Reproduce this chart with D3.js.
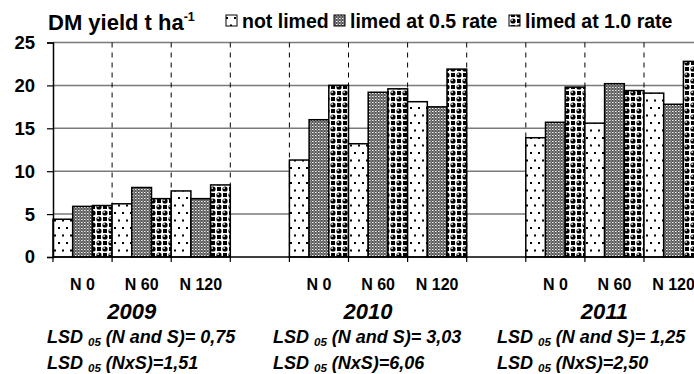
<!DOCTYPE html>
<html>
<head>
<meta charset="utf-8">
<script src="https://cdn.jsdelivr.net/npm/d3@7"></script>
<style>
  html, body { margin: 0; padding: 0; background: #fff; }
  svg { display: block; }
  text { font-family: "Liberation Sans", Arial, sans-serif; font-weight: bold; fill: #000; }
</style>
</head>
<body>
<svg id="chart" width="694" height="374"></svg>
<script>
// Dry-matter yield by nitrogen rate and liming, three seasons
const years = ["2009", "2010", "2011"];
const nRates = ["N 0", "N 60", "N 120"];
const seriesNames = ["not limed", "limed at 0.5 rate", "limed at 1.0 rate"];

// values listed year by year, N 0 / N 60 / N 120 within each year (t ha-1)
const notLimed = [4.4, 6.2, 7.7, 11.3, 13.2, 18.1, 13.9, 15.6, 19.1];
const limedHalf = [5.9, 8.1, 6.8, 16.0, 19.2, 17.5, 15.7, 20.2, 17.8];
const limedFull = [6.0, 6.8, 8.4, 20.0, 19.6, 21.9, 19.8, 19.4, 22.8];

const yTicks = [0, 5, 10, 15, 20, 25];
const lsdMain = ["0,75", "3,03", "1,25"];
const lsdInter = ["1,51", "6,06", "2,50"];

const svg = d3.select("#chart");
const defs = svg.append("defs");

// fill patterns
const pNot = defs.append("pattern").attr("id", "pNot").attr("patternUnits", "userSpaceOnUse")
  .attr("width", 8).attr("height", 15);
pNot.append("rect").attr("width", 8).attr("height", 15).attr("fill", "#fff");
pNot.append("rect").attr("x", 2).attr("y", 2).attr("width", 2).attr("height", 2).attr("fill", "#000");
pNot.append("rect").attr("x", 6).attr("y", 9.5).attr("width", 2).attr("height", 2).attr("fill", "#000");

const pHalf = defs.append("pattern").attr("id", "pHalf").attr("patternUnits", "userSpaceOnUse")
  .attr("width", 3).attr("height", 3);
pHalf.append("rect").attr("width", 3).attr("height", 3).attr("fill", "#555");
pHalf.append("rect").attr("width", 1).attr("height", 1).attr("fill", "#f0f0f0");
pHalf.append("rect").attr("x", 1.5).attr("y", 1.5).attr("width", 1).attr("height", 1).attr("fill", "#e8e8e8");
pHalf.append("rect").attr("x", 1).attr("y", 0).attr("width", 1).attr("height", 1).attr("fill", "#aaa");

const pFull = defs.append("pattern").attr("id", "pFull").attr("patternUnits", "userSpaceOnUse")
  .attr("width", 12).attr("height", 12);
pFull.append("rect").attr("width", 12).attr("height", 12).attr("fill", "#fff");
[[9, 3], [3, 9]].forEach(([cx, cy]) => {
  pFull.append("rect").attr("x", cx - 2).attr("y", cy - 2).attr("width", 4).attr("height", 4).attr("fill", "#000");
});
[[3, 3], [9, 9]].forEach(([cx, cy]) => {
  pFull.append("circle").attr("cx", cx).attr("cy", cy).attr("r", 2.6).attr("fill", "#000");
  pFull.append("circle").attr("cx", cx - 0.9).attr("cy", cy - 0.9).attr("r", 0.9).attr("fill", "#fff");
});

const fills = ["url(#pNot)", "url(#pHalf)", "url(#pFull)"];
const seriesValues = [notLimed, limedHalf, limedFull];

// category slots: each year's three N rates, with an empty slot between years
const slots = [];
years.forEach((yr, i) => {
  nRates.forEach(n => slots.push(yr + "|" + n));
  if (i < years.length - 1) slots.push("gap" + i);
});

const left = 53, slotW = 59.1;
const x = d3.scaleBand().domain(slots).range([left, left + slots.length * slotW]).padding(0);
const xs = d3.scaleBand().domain(seriesNames).range([0, x.bandwidth()]).padding(0);
const y = d3.scaleLinear().domain([0, 25]).range([257, 42.5]);
const right = x.range()[1];

// horizontal gridlines
svg.append("g").selectAll("line").data(yTicks.filter(t => t > 0)).join("line")
  .attr("x1", left).attr("x2", right)
  .attr("y1", d => y(d)).attr("y2", d => y(d))
  .attr("stroke", "#7a7a7a").attr("stroke-width", 1.5);

// dashed separators between slots
svg.append("g").selectAll("line").data(slots.slice(1)).join("line")
  .attr("x1", d => x(d)).attr("x2", d => x(d))
  .attr("y1", y(25)).attr("y2", y(0))
  .attr("stroke", "#000").attr("stroke-width", 1).attr("stroke-dasharray", "5,5");

// bars
const barData = [];
years.forEach((yr, yi) => nRates.forEach((n, ni) => seriesNames.forEach((s, si) => {
  barData.push({ slot: yr + "|" + n, series: s, si, value: seriesValues[si][yi * 3 + ni] });
})));
svg.append("g").selectAll("rect").data(barData).join("rect")
  .attr("x", d => x(d.slot) + xs(d.series))
  .attr("width", xs.bandwidth())
  .attr("y", d => y(d.value))
  .attr("height", d => y(0) - y(d.value))
  .attr("fill", d => fills[d.si])
  .attr("stroke", "#000").attr("stroke-width", 1.5);

// y axis
const yAxis = svg.append("g").attr("transform", `translate(${left},0)`)
  .call(d3.axisLeft(y).tickValues(yTicks).tickSize(6).tickPadding(12).tickFormat(d3.format("d")));
yAxis.select(".domain").attr("stroke", "#000").attr("stroke-width", 1.5);
yAxis.selectAll(".tick line").attr("stroke", "#000").attr("stroke-width", 1.2);
yAxis.selectAll(".tick text").attr("font-size", 18.5).attr("font-weight", "bold")
  .attr("font-family", "'Liberation Sans', Arial, sans-serif").attr("fill", "#000");

// x axis line and boundary ticks
svg.append("line").attr("x1", left).attr("x2", right).attr("y1", y(0)).attr("y2", y(0))
  .attr("stroke", "#000").attr("stroke-width", 1.5);
svg.append("g").selectAll("line").data(slots).join("line")
  .attr("x1", d => x(d)).attr("x2", d => x(d))
  .attr("y1", y(0)).attr("y2", y(0) + 5)
  .attr("stroke", "#000").attr("stroke-width", 1.2);

// N-rate labels
svg.append("g").selectAll("text").data(slots.filter(s => !s.startsWith("gap"))).join("text")
  .attr("x", d => x(d) + x.bandwidth() / 2).attr("y", 290)
  .attr("text-anchor", "middle").attr("font-size", 16)
  .text(d => d.split("|")[1]);

// year labels
svg.append("g").selectAll("text").data(years).join("text")
  .attr("x", d => x(d + "|N 60") + x.bandwidth() / 2 - 10).attr("y", 319)
  .attr("text-anchor", "middle").attr("font-size", 22).attr("font-style", "italic")
  .text(d => d);

// LSD notes
const lsdX = [47, 273, 497];
years.forEach((yr, i) => {
  [[lsdMain[i], " (N and S)= ", 343], [lsdInter[i], " (NxS)=", 369]].forEach(([v, lab, by]) => {
    const t = svg.append("text").attr("x", lsdX[i]).attr("y", by)
      .attr("font-size", 18).attr("font-style", "italic");
    t.append("tspan").text("LSD ");
    t.append("tspan").attr("font-size", 11.5).attr("dy", 3).text("05");
    t.append("tspan").attr("dy", -3).text(lab + v);
  });
});

// title
const title = svg.append("text").attr("x", 48).attr("y", 30).attr("font-size", 22);
title.append("tspan").text("DM yield t ha");
title.append("tspan").attr("font-size", 12.5).attr("dy", -9).text("-1");

// legend
const legX = [226, 334, 509];
seriesNames.forEach((s, i) => {
  svg.append("rect").attr("x", legX[i]).attr("y", 15).attr("width", 11).attr("height", 11)
    .attr("fill", fills[i]).attr("stroke", "#000").attr("stroke-width", 1);
  svg.append("text").attr("x", legX[i] + 16).attr("y", 28).attr("font-size", 19.5).text(s);
});
</script>
</body>
</html>
